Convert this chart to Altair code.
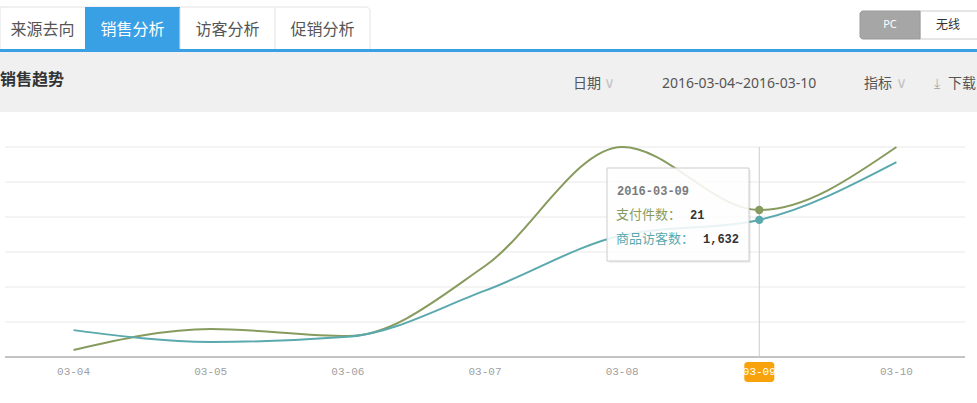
import altair as alt
import pandas as pd

# ---------------- data ----------------
dates = ["03-04", "03-05", "03-06", "03-07", "03-08", "03-09", "03-10"]
full_dates = ["2016-03-04", "2016-03-05", "2016-03-06", "2016-03-07",
              "2016-03-08", "2016-03-09", "2016-03-10"]
pay_items = [1, 4, 3, 13, 30, 21, 30]            # 支付件数
visitors = [320, 180, 240, 790, 1450, 1632, 2320]  # 商品访客数
grid_ticks = [5, 10, 15, 20, 25, 30]
baseline_tick = [0]
tabs = ["来源去向", "销售分析", "访客分析", "促销分析"]
active_tab = "销售分析"
highlight = "03-09"
title_text = "销售趋势"
date_range_text = "2016-03-04~2016-03-10"

# ---------------- styles / layout ----------------
W, H = 977, 403
GREEN = "#889b5f"
TEAL = "#5aa9ad"
BLUE = "#3aa0e5"
ORANGE = "#f9a30c"
CJK = "Noto Sans CJK SC"
MONO = "Liberation Mono"
tab_edges = [0, 85, 180, 275, 370]

df = pd.DataFrame({"date": dates, "full": full_dates,
                   "pay": pay_items, "vis": visitors})
hl = alt.datum.date == highlight
one = pd.DataFrame({"k": [0]})

xs = alt.Scale(type="point", domain=dates, range=[5, 965], padding=0.5)
X = alt.X("date:N", scale=xs, axis=None)
yg = alt.Scale(domain=[0, 30], range=[357, 147], nice=False, zero=True)
yb = alt.Scale(domain=[0, 2500], range=[357, 147], nice=False, zero=True)


def rect(x0, x1, y0, y1, **kw):
    return alt.Chart(one).mark_rect(**kw).encode(
        x=alt.value(x0), x2=alt.value(x1), y=alt.value(y0), y2=alt.value(y1))


def label(x, y, text, **kw):
    opts = dict(align="left", baseline="middle", font=CJK, fontSize=14, color="#555")
    opts.update(kw)
    return alt.Chart(one).mark_text(text=text, **opts).encode(
        x=alt.value(x), y=alt.value(y))


layers = []

# ---- tabs ----
layers.append(rect(0, 370, 7, 50, fill="#ffffff", stroke="#e2e2e2", strokeWidth=1,
                   cornerRadiusTopRight=4))
for i, t in enumerate(tabs):
    x0, x1 = tab_edges[i], tab_edges[i + 1]
    if t == active_tab:
        layers.append(rect(x0, x1, 7, 50, fill=BLUE))
    elif i > 1:
        layers.append(alt.Chart(one).mark_rule(color="#e2e2e2").encode(
            x=alt.value(x0), y=alt.value(8), y2=alt.value(50)))
    layers.append(label((x0 + x1) / 2, 30, t, align="center", fontSize=16,
                        color="#ffffff" if t == active_tab else "#555555"))

# ---- PC / 无线 toggle ----
layers.append(rect(920, 990, 11, 39, fill="#ffffff", stroke="#cccccc"))
layers.append(rect(860, 920, 11, 39, fill="#a6a6a6", stroke="#999999",
                   cornerRadiusTopLeft=3, cornerRadiusBottomLeft=3))
layers.append(label(890, 25, "PC", align="center", fontSize=11, color="#ffffff",
                    font="Noto Sans"))
layers.append(label(948, 25, "无线", align="center", fontSize=12, color="#333333"))

# ---- header band ----
layers.append(rect(0, W, 52, 112, fill="#f0f0f0"))
layers.append(rect(0, W, 49, 52, fill=BLUE))
layers.append(label(0, 80, title_text, fontSize=16, fontWeight="bold", color="#333333"))
layers.append(label(573, 84, "日期", color="#555555"))
layers.append(label(604, 83, "∨", color="#c4c4c4", fontSize=15, font="DejaVu Sans"))
layers.append(label(662, 84, date_range_text, color="#555555", font="Noto Sans"))
layers.append(label(864, 84, "指标", color="#555555"))
layers.append(label(896, 83, "∨", color="#c4c4c4", fontSize=15, font="DejaVu Sans"))
layers.append(label(934, 84, "⤓", color="#aaaaaa", fontSize=14, font="DejaVu Sans"))
layers.append(label(948, 84, "下载", color="#555555"))

# ---- grid ----
layers.append(alt.Chart(pd.DataFrame({"t": grid_ticks})).mark_rule(
    color="#e8e8e8", strokeWidth=1).encode(
    y=alt.Y("t:Q", scale=yg, axis=None), x=alt.value(5), x2=alt.value(965)))
layers.append(alt.Chart(pd.DataFrame({"t": baseline_tick})).mark_rule(
    color="#c4c4c4", strokeWidth=2).encode(
    y=alt.Y("t:Q", scale=yg, axis=None), x=alt.value(5), x2=alt.value(965)))

base = alt.Chart(df)

# crosshair
layers.append(base.mark_rule(color="#cccccc", strokeWidth=1).encode(
    x=X, y=alt.value(147), y2=alt.value(357)).transform_filter(hl))

# ---- series ----
layers.append(base.mark_line(color=GREEN, strokeWidth=2, interpolate="monotone").encode(
    x=X, y=alt.Y("pay:Q", scale=yg, axis=None)))
layers.append(base.mark_line(color=TEAL, strokeWidth=2, interpolate="monotone").encode(
    x=X, y=alt.Y("vis:Q", scale=yb, axis=None)))
layers.append(base.mark_circle(color=GREEN, size=70, opacity=1).encode(
    x=X, y=alt.Y("pay:Q", scale=yg, axis=None)).transform_filter(hl))
layers.append(base.mark_circle(color=TEAL, size=70, opacity=1).encode(
    x=X, y=alt.Y("vis:Q", scale=yb, axis=None)).transform_filter(hl))

# ---- x labels ----
layers.append(base.mark_bar(size=30, color=ORANGE, cornerRadius=3).encode(
    x=X, y=alt.value(362), y2=alt.value(382)).transform_filter(hl))
layers.append(base.mark_text(font=MONO, fontSize=11, baseline="middle").encode(
    x=X, y=alt.value(372), text="date:N",
    color=alt.condition(hl, alt.value("#ffffff"), alt.value("#a0a0a0"))))

# ---- tooltip ----
layers.append(rect(609, 751, 170, 263, fill="#000000", fillOpacity=0.06))
layers.append(rect(607, 749, 168, 261, fill="#ffffff", fillOpacity=0.88,
                   stroke="#cccccc", strokeWidth=1))
tip = base.transform_filter(hl)
layers.append(tip.mark_text(align="left", baseline="middle", font=MONO, fontSize=12,
                            color="#7a7a7a", fontWeight="bold").encode(
    x=alt.value(617), y=alt.value(191), text="full:N"))
layers.append(label(616, 215, "支付件数：", color=GREEN, fontSize=13))
layers.append(tip.mark_text(align="left", baseline="middle", font=MONO, fontSize=12,
                            color="#333333", fontWeight="bold").encode(
    x=alt.value(690), y=alt.value(215), text=alt.Text("pay:Q", format=",")))
layers.append(label(616, 239, "商品访客数：", color=TEAL, fontSize=13))
layers.append(tip.mark_text(align="left", baseline="middle", font=MONO, fontSize=12,
                            color="#333333", fontWeight="bold").encode(
    x=alt.value(703), y=alt.value(239), text=alt.Text("vis:Q", format=",")))

chart = alt.layer(*layers).resolve_scale(y="independent").properties(
    width=W, height=H, padding=0, autosize=alt.AutoSizeParams(type="none"),
    background="#ffffff"
).configure_view(stroke=None)

chart.save("out.html", embed_options={"renderer": "svg", "actions": False})
